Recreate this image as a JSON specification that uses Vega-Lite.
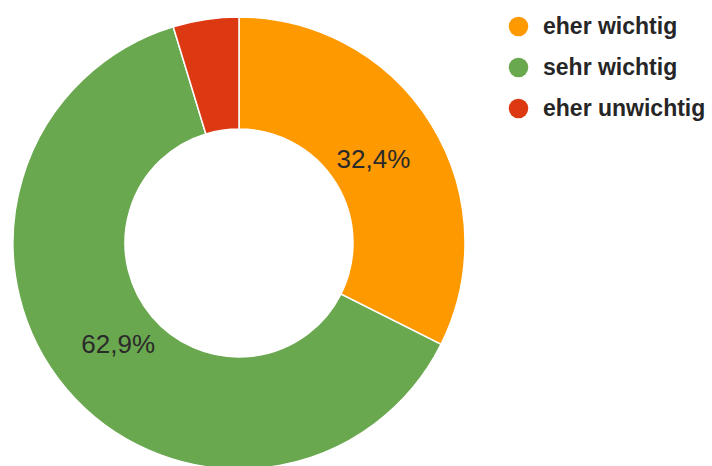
{
  "$schema": "https://vega.github.io/schema/vega-lite/v6.json",
  "width": 478,
  "height": 486,
  "padding": 0,
  "autosize": {"type": "pad"},
  "background": "white",
  "view": {"stroke": null},
  "data": {"values": [
    {"kategorie": "eher wichtig", "anteil": 32.4, "label": "32,4%", "ord": 1},
    {"kategorie": "sehr wichtig", "anteil": 62.9, "label": "62,9%", "ord": 2},
    {"kategorie": "eher unwichtig", "anteil": 4.7, "label": "", "ord": 3}
  ]},
  "encoding": {
    "theta": {"field": "anteil", "type": "quantitative", "stack": true},
    "order": {"field": "ord", "type": "quantitative"}
  },
  "layer": [
    {
      "mark": {"type": "arc", "innerRadius": 114, "outerRadius": 226, "stroke": "white", "strokeWidth": 1.5},
      "encoding": {
        "color": {
          "field": "kategorie", "type": "nominal",
          "scale": {"domain": ["eher wichtig", "sehr wichtig", "eher unwichtig"], "range": ["#FF9900", "#6AA84F", "#DC3912"]},
          "legend": {
            "title": null, "orient": "none", "legendX": 507, "legendY": 15, "padding": 0,
            "symbolType": "circle", "symbolSize": 380, "symbolStrokeWidth": 0,
            "labelFont": "Liberation Sans", "labelFontSize": 23, "labelFontWeight": "bold", "labelColor": "#262626",
            "labelLimit": 300, "rowPadding": 17, "labelOffset": 13
          }
        }
      }
    },
    {
      "mark": {"type": "text", "radius": 158, "font": "Liberation Sans", "fontSize": 26, "color": "#2a2a2a"},
      "encoding": {"text": {"field": "label", "type": "nominal"}}
    }
  ]
}
